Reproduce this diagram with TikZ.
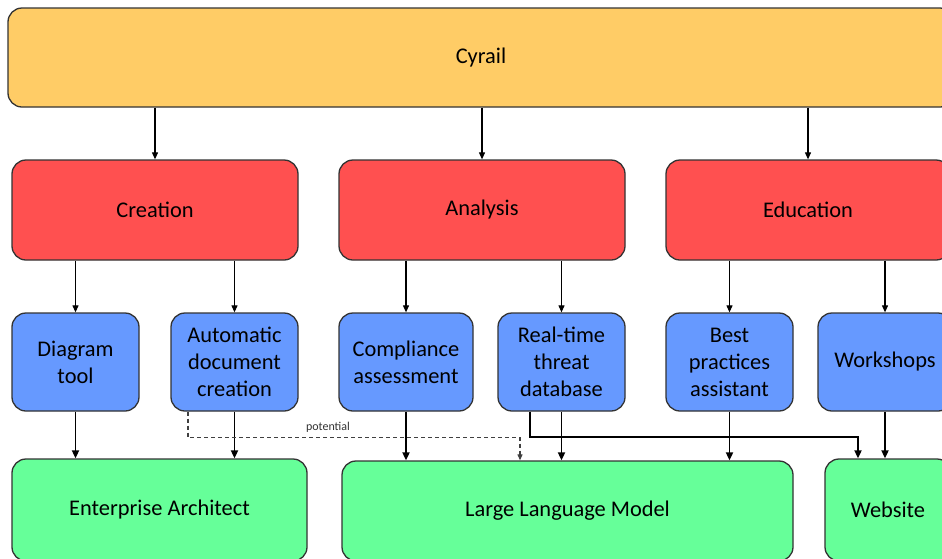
\documentclass[tikz,border=0pt]{standalone}
\usepackage{fontspec}
\setmainfont{Carlito}
\usetikzlibrary{arrows.meta}
\definecolor{topfill}{HTML}{FFCC66}
\definecolor{areafill}{HTML}{FF5050}
\definecolor{featfill}{HTML}{6699FF}
\definecolor{basefill}{HTML}{66FF99}
\definecolor{edge}{HTML}{333333}
\tikzset{
  box/.style={draw=edge, line width=1.3pt, rounded corners=14pt, align=center,
    inner sep=0pt, font=\fontsize{22.4}{27}\selectfont},
  topbox/.style={box, fill=topfill},
  areabox/.style={box, fill=areafill},
  featbox/.style={box, fill=featfill},
  basebox/.style={box, fill=basefill},
  arrthin/.style={draw=black, line width=1.1pt, -{Triangle[length=7pt,width=6pt]}},
  arrthick/.style={draw=black, line width=1.8pt, -{Triangle[length=8pt,width=7pt]}},
  arrdash/.style={draw=black!75, line width=1.1pt, dash pattern=on 4pt off 3pt,
    -{Triangle[length=6pt,width=5pt]}},
}
\begin{document}
\begin{tikzpicture}[x=1pt,y=-1pt]
\useasboundingbox (0,0) rectangle (942,558);
\clip (0,0) rectangle (942,558);
\fill[white] (0,0) rectangle (942,558);

% top level
\node[topbox, minimum width=946pt, minimum height=99pt] (cyrail) at (481,57.5) {Cyrail};

% areas
\node[areabox, minimum width=286pt, minimum height=100pt] (creation) at (155,210) {Creation};
\node[areabox, minimum width=286pt, minimum height=100pt] (analysis) at (482,210) {Analysis};
\node[areabox, minimum width=284pt, minimum height=100pt] (education) at (808,210) {Education};

% features
\node[featbox, minimum width=127pt, minimum height=98pt] (diagram) at (75.5,362) {Diagram\\tool};
\node[featbox, minimum width=127pt, minimum height=98pt] (autodoc) at (234.5,362) {Automatic\\document\\creation};
\node[featbox, minimum width=134pt, minimum height=98pt] (compliance) at (406,362) {Compliance\\assessment};
\node[featbox, minimum width=127pt, minimum height=98pt] (threat) at (561.5,362) {Real-time\\threat\\database};
\node[featbox, minimum width=127pt, minimum height=98pt] (best) at (729.5,362) {Best\\practices\\assistant};
\node[featbox, minimum width=134pt, minimum height=98pt] (workshops) at (885,362) {Workshops};

% base systems
\node[basebox, minimum width=295pt, minimum height=102pt] (ea) at (159.5,510) {Enterprise Architect};
\node[basebox, minimum width=451pt, minimum height=100pt] (llm) at (567.5,511) {Large Language Model};
\node[basebox, minimum width=126pt, minimum height=102pt] (website) at (888,510) {Website};

% top level to areas
\draw[arrthin] (cyrail.south -| creation.north) -- (creation.north);
\draw[arrthin] (cyrail.south -| analysis.north) -- (analysis.north);
\draw[arrthin] (cyrail.south -| education.north) -- (education.north);

% areas to features
\draw[arrthin] (creation.south -| diagram.north) -- (diagram.north);
\draw[arrthin] (creation.south -| autodoc.north) -- (autodoc.north);
\draw[arrthin] (analysis.south -| compliance.north) -- (compliance.north);
\draw[arrthin] (analysis.south -| threat.north) -- (threat.north);
\draw[arrthin] (education.south -| best.north) -- (best.north);
\draw[arrthin] (education.south -| workshops.north) -- (workshops.north);

% features to base systems
\draw[arrthick] (diagram.south) -- (diagram.south |- ea.north);
\draw[arrthick] (autodoc.south) -- (autodoc.south |- ea.north);
\draw[arrthick] (compliance.south) -- (compliance.south |- llm.north);
\draw[arrthick] (threat.south) -- (threat.south |- llm.north);
\draw[arrthick] (best.south) -- (best.south |- llm.north);
\draw[arrthick] (workshops.south) -- (workshops.south |- website.north);
\draw[arrthick] ([xshift=-31.5pt]threat.south) -- ++(0,25) -| ([xshift=-30pt]website.north);

% optional link
\draw[arrdash] ([xshift=-46.5pt]autodoc.south) -- ++(0,26) -| ([xshift=-47.5pt]llm.north);
\node[font=\fontsize{12}{14}\selectfont, text=black!80] (potlabel) at (328,427) {potential};
\end{tikzpicture}
\end{document}
